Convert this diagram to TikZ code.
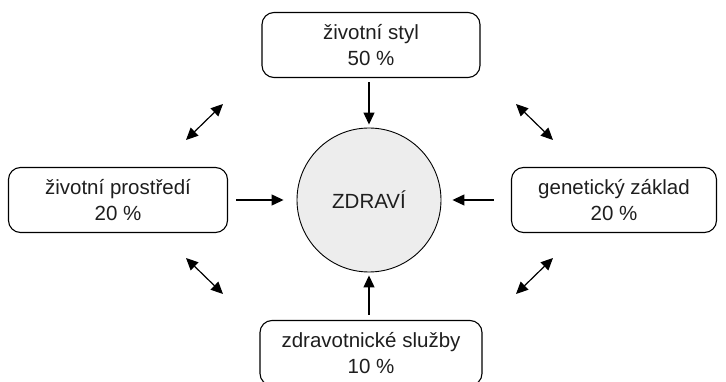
\documentclass[tikz,border=0pt]{standalone}
\usepackage{fontspec}
\setmainfont{Liberation Sans}
\usetikzlibrary{arrows.meta}
\definecolor{txt}{HTML}{1E1E1E}
\definecolor{cfill}{HTML}{EDEDED}
\begin{document}
\begin{tikzpicture}[x=1pt,y=-1pt,
  factor/.style={draw=black, line width=1.1pt, rounded corners=12pt, minimum width=218pt, minimum height=65pt, align=center, font=\fontsize{20.5}{26}\selectfont, text=txt, inner sep=0pt},
  arr/.style={line width=1.2pt, -{Triangle[length=12pt,width=11pt]}},
  darr/.style={line width=1.2pt, {Triangle[length=12pt,width=11pt]}-{Triangle[length=12pt,width=11pt]}}]
\useasboundingbox (0,0) rectangle (726,382);
\node[factor] (styl) at (371,45) {životní styl\\50 \%};
\node[factor, minimum width=219pt] (prost) at (118,200) {životní prostředí\\20 \%};
\node[factor, minimum width=205pt] (gen) at (614,200) {genetický základ\\20 \%};
\node[factor, minimum width=222pt] (sluz) at (371,353) {zdravotnické služby\\10 \%};
\node[circle, draw=black, line width=0.9pt, fill=cfill, minimum size=144pt, inner sep=0pt, font=\fontsize{20.5}{26}\selectfont, text=txt] (zdr) at (369,200) {ZDRAVÍ};
% straight arrows
\draw[arr, shorten <=4pt, shorten >=3pt] (styl.south -| zdr) -- (zdr.north);
\draw[arr, shorten <=5pt, shorten >=3pt] (sluz.north -| zdr) -- (zdr.south);
\draw[arr, shorten <=8pt, shorten >=13pt] (prost.east) -- (zdr.west);
\draw[arr, shorten <=17pt, shorten >=11pt] (gen.west) -- (zdr.east);
% double arrows
\coordinate (tl1) at (186,140); \coordinate (tl2) at (223,104);
\coordinate (tr1) at (516,104); \coordinate (tr2) at (553,140);
\coordinate (bl1) at (186,258); \coordinate (bl2) at (223,294);
\coordinate (br1) at (553,258); \coordinate (br2) at (516,294);
\draw[darr] (tl1) -- (tl2);
\draw[darr] (tr1) -- (tr2);
\draw[darr] (bl1) -- (bl2);
\draw[darr] (br1) -- (br2);
\end{tikzpicture}
\end{document}
